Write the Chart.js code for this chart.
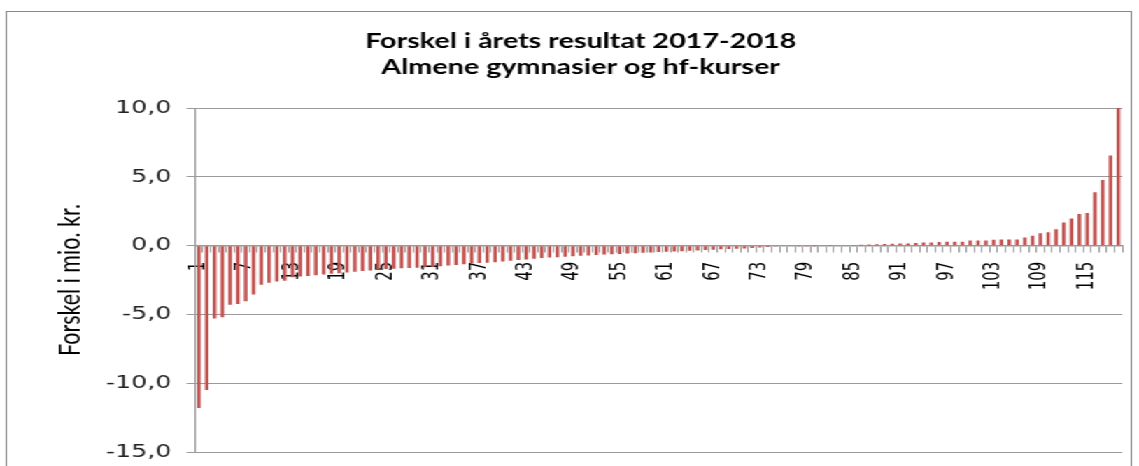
<!DOCTYPE html>
<html>
<head>
<meta charset="utf-8">
<script src="https://cdn.jsdelivr.net/npm/chart.js@4.4.1/dist/chart.umd.min.js"></script>
<style>
  html, body { margin: 0; padding: 0; background: #fff; overflow: hidden; width: 1139px; height: 466px; }
  #wrap { position: absolute; left: 0; top: 0; width: 814px; height: 466px; transform: scaleX(1.39926); transform-origin: 0 0; }
  #frame { position: absolute; left: 4px; top: 11px; width: 805px; height: 470px; border: 1.5px solid #8a8a8a; box-sizing: border-box; }
  #c { position: absolute; left: 0; top: 0; width: 814px; height: 466px; }
</style>
</head>
<body>
<div id="wrap">
  <div id="frame"></div>
  <canvas id="c" width="814" height="466"></canvas>
</div>
<script>
const categories = [
  '1','2','3','4','5','6','7','8','9','10','11','12','13','14','15','16','17','18','19','20',
  '21','22','23','24','25','26','27','28','29','30','31','32','33','34','35','36','37','38','39','40',
  '41','42','43','44','45','46','47','48','49','50','51','52','53','54','55','56','57','58','59','60',
  '61','62','63','64','65','66','67','68','69','70','71','72','73','74','75','76','77','78','79','80',
  '81','82','83','84','85','86','87','88','89','90','91','92','93','94','95','96','97','98','99','100',
  '101','102','103','104','105','106','107','108','109','110','111','112','113','114','115','116','117','118','119'
];
const shownLabels = ['1','7','13','19','25','31','37','43','49','55','61','67','73','79','85','91','97','103','109','115'];
const forskel = [
  -11.8, -10.5, -5.3, -5.2, -4.3, -4.25, -4.05, -3.55, -2.85, -2.7,
  -2.6, -2.55, -2.3, -2.25, -2.2, -2.15, -2.1, -2.05, -2.0, -1.95,
  -1.9, -1.85, -1.8, -1.75, -1.7, -1.68, -1.65, -1.62, -1.6, -1.57,
  -1.55, -1.5, -1.45, -1.4, -1.35, -1.3, -1.27, -1.24, -1.2, -1.15,
  -1.1, -1.05, -1.0, -0.95, -0.9, -0.87, -0.84, -0.8, -0.77, -0.74,
  -0.71, -0.68, -0.65, -0.62, -0.6, -0.57, -0.55, -0.52, -0.5, -0.47,
  -0.45, -0.42, -0.4, -0.37, -0.35, -0.32, -0.3, -0.27, -0.25, -0.22,
  -0.2, -0.17, -0.14, -0.1, -0.07, -0.05, -0.04, -0.03, -0.02, -0.01,
  0, 0.01, 0.02, 0.03, 0.05, 0.07, 0.09, 0.1, 0.12, 0.13,
  0.15, 0.15, 0.2, 0.22, 0.22, 0.27, 0.29, 0.29, 0.29, 0.38,
  0.38, 0.38, 0.43, 0.44, 0.45, 0.45, 0.6, 0.72, 0.9, 0.97,
  1.2, 1.69, 1.98, 2.3, 2.37, 3.88, 4.78, 6.55, 10.0
];
const yTickValues = [-15, -10, -5, 0, 5, 10];
const yTickLabels = ['-15,0', '-10,0', '-5,0', '0,0', '5,0', '10,0'];
const titleLines = ['Forskel i årets resultat 2017-2018', 'Almene gymnasier og hf-kurser'];
const yTitle = 'Forskel i mio. kr.';

const grey = '#9a9a9a';
new Chart(document.getElementById('c'), {
  type: 'bar',
  data: {
    labels: categories,
    datasets: [{
      data: forskel,
      backgroundColor: '#C0504D',
      borderWidth: 0,
      barPercentage: 0.45,
      categoryPercentage: 1.0
    }]
  },
  options: {
    responsive: false,
    animation: false,
    devicePixelRatio: 1,
    layout: { padding: { left: 28, right: 12, top: 0, bottom: 14 } },
    plugins: {
      legend: { display: false },
      tooltip: { enabled: false },
      title: {
        display: true,
        text: titleLines,
        color: '#000',
        font: { family: 'Lato', size: 20.5, weight: 'bold', lineHeight: 1.27 },
        padding: { top: 28, bottom: 28 }
      }
    },
    scales: {
      x: {
        position: { y: 0 },
        offset: true,
        grid: { display: true, drawOnChartArea: false, drawTicks: true, tickLength: 6, color: grey, offset: true },
        border: { display: true, color: grey, width: 1.5 },
        ticks: {
          autoSkip: false,
          minRotation: 90,
          maxRotation: 90,
          padding: 10,
          color: '#000',
          font: { family: 'DejaVu Sans', size: 15 },
          callback: function (val, idx) {
            const lab = categories[idx];
            return shownLabels.includes(lab) ? lab : '';
          }
        },
        afterFit: function (scale) { scale.height = 0; scale.paddingLeft = 0; scale.paddingRight = 0; scale.paddingTop = 0; scale.paddingBottom = 0; }
      },
      y: {
        min: -15,
        max: 10,
        grid: { color: grey, tickLength: 6, drawTicks: true },
        border: { display: true, color: grey, width: 1 },
        ticks: {
          stepSize: 5,
          padding: 11,
          color: '#222',
          font: { family: 'DejaVu Sans', size: 18 },
          callback: function (v) {
            const i = yTickValues.indexOf(v);
            return i >= 0 ? yTickLabels[i] : '';
          }
        },
        title: {
          display: true,
          text: yTitle,
          color: '#000',
          font: { family: 'Lato', size: 21.5 },
          padding: { top: 9.5, bottom: 0 }
        },
        afterFit: function (scale) { scale.width = 111.4; scale.paddingTop = 0; scale.paddingBottom = 0; }
      }
    }
  }
});
</script>
</body>
</html>
